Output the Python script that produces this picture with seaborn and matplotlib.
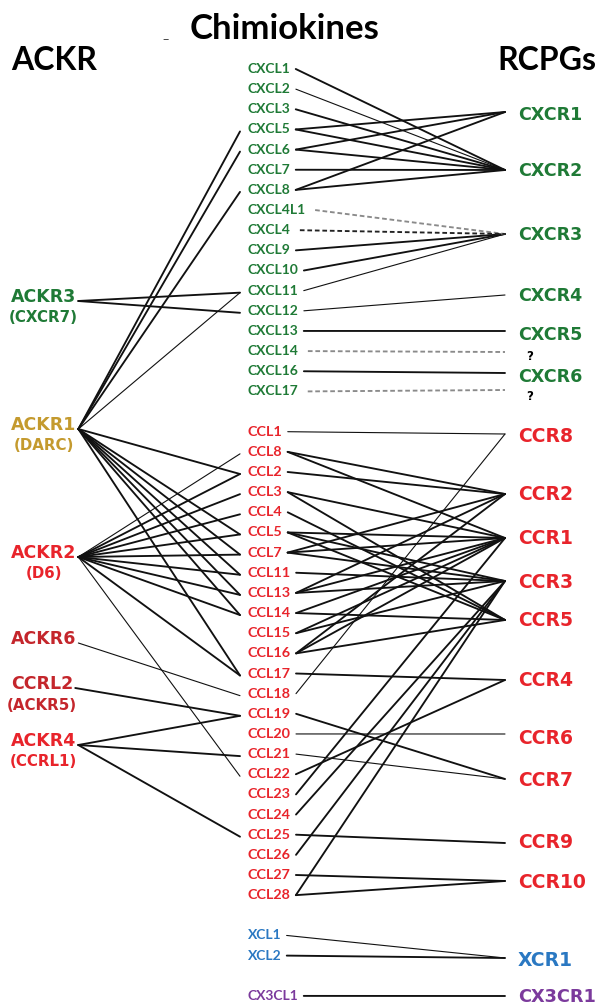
import pandas as pd
import matplotlib
matplotlib.use("Agg")
import matplotlib.pyplot as plt
import seaborn as sns

# ---- data -------------------------------------------------------------
# chemokines (middle column), display order, one list per family
cxcl = ["CXCL1", "CXCL2", "CXCL3", "CXCL5", "CXCL6", "CXCL7", "CXCL8", "CXCL4L1",
        "CXCL4", "CXCL9", "CXCL10", "CXCL11", "CXCL12", "CXCL13", "CXCL14",
        "CXCL16", "CXCL17"]
ccl = ["CCL1", "CCL8", "CCL2", "CCL3", "CCL4", "CCL5", "CCL7", "CCL11", "CCL13",
       "CCL14", "CCL15", "CCL16", "CCL17", "CCL18", "CCL19", "CCL20", "CCL21",
       "CCL22", "CCL23", "CCL24", "CCL25", "CCL26", "CCL27", "CCL28"]
xcl = ["XCL1", "XCL2"]
cx3cl = ["CX3CL1"]

# atypical receptors (left column) and their old names
ackr = ["ACKR3", "ACKR1", "ACKR2", "ACKR6", "CCRL2", "ACKR4"]
ackr_alias = ["(CXCR7)", "(DARC)", "(D6)", "", "(ACKR5)", "(CCRL1)"]

# classical receptors (right column); "?a"/"?b" are the unknown receptors
rcpg = ["CXCR1", "CXCR2", "CXCR3", "CXCR4", "CXCR5", "?a", "CXCR6", "?b",
        "CCR8", "CCR2", "CCR1", "CCR3", "CCR5", "CCR4", "CCR6", "CCR7", "CCR9",
        "CCR10", "XCR1", "CX3CR1"]

ackr_edges = [
    ("ACKR3", "CXCL11"), ("ACKR3", "CXCL12"),
    ("ACKR1", "CXCL5"), ("ACKR1", "CXCL6"), ("ACKR1", "CXCL8"), ("ACKR1", "CXCL11"),
    ("ACKR1", "CCL2"), ("ACKR1", "CCL5"), ("ACKR1", "CCL7"), ("ACKR1", "CCL11"),
    ("ACKR1", "CCL13"), ("ACKR1", "CCL14"), ("ACKR1", "CCL17"),
    ("ACKR2", "CCL8"), ("ACKR2", "CCL2"), ("ACKR2", "CCL3"), ("ACKR2", "CCL4"),
    ("ACKR2", "CCL5"), ("ACKR2", "CCL7"), ("ACKR2", "CCL11"), ("ACKR2", "CCL13"),
    ("ACKR2", "CCL14"), ("ACKR2", "CCL17"), ("ACKR2", "CCL22"),
    ("ACKR6", "CCL18"),
    ("CCRL2", "CCL19"),
    ("ACKR4", "CCL19"), ("ACKR4", "CCL21"), ("ACKR4", "CCL25"),
]

rcpg_edges = [
    ("CXCL1", "CXCR2"), ("CXCL2", "CXCR2"), ("CXCL3", "CXCR2"),
    ("CXCL5", "CXCR1"), ("CXCL5", "CXCR2"), ("CXCL6", "CXCR1"), ("CXCL6", "CXCR2"),
    ("CXCL7", "CXCR2"), ("CXCL8", "CXCR1"), ("CXCL8", "CXCR2"),
    ("CXCL4L1", "CXCR3"), ("CXCL4", "CXCR3"), ("CXCL9", "CXCR3"),
    ("CXCL10", "CXCR3"), ("CXCL11", "CXCR3"),
    ("CXCL12", "CXCR4"), ("CXCL13", "CXCR5"), ("CXCL14", "?a"),
    ("CXCL16", "CXCR6"), ("CXCL17", "?b"),
    ("CCL1", "CCR8"), ("CCL18", "CCR8"),
    ("CCL8", "CCR2"), ("CCL2", "CCR2"), ("CCL7", "CCR2"), ("CCL13", "CCR2"),
    ("CCL16", "CCR2"),
    ("CCL3", "CCR1"), ("CCL5", "CCR1"), ("CCL7", "CCR1"), ("CCL8", "CCR1"),
    ("CCL13", "CCR1"), ("CCL14", "CCR1"), ("CCL15", "CCR1"), ("CCL16", "CCR1"),
    ("CCL23", "CCR1"),
    ("CCL5", "CCR3"), ("CCL7", "CCR3"), ("CCL11", "CCR3"), ("CCL13", "CCR3"),
    ("CCL15", "CCR3"), ("CCL24", "CCR3"), ("CCL26", "CCR3"), ("CCL28", "CCR3"),
    ("CCL3", "CCR5"), ("CCL4", "CCR5"), ("CCL5", "CCR5"), ("CCL14", "CCR5"),
    ("CCL16", "CCR5"),
    ("CCL17", "CCR4"), ("CCL22", "CCR4"),
    ("CCL20", "CCR6"),
    ("CCL19", "CCR7"), ("CCL21", "CCR7"),
    ("CCL25", "CCR9"),
    ("CCL27", "CCR10"), ("CCL28", "CCR10"),
    ("XCL1", "XCR1"), ("XCL2", "XCR1"),
    ("CX3CL1", "CX3CR1"),
]

# ---- layout / style -----------------------------------------------------
W, H = 602, 1007
ROW0, ROW = 69, 20.15          # middle column grid (one blank row between families)
MID_X, MID_END = 248, 240
RIGHT_X, RIGHT_END = 518, 505

ackr_y = {"ACKR3": 297, "ACKR1": 425, "ACKR2": 553, "ACKR6": 639, "CCRL2": 684, "ACKR4": 741}
rcpg_label_y = {"CXCR1": 115, "CXCR2": 171, "CXCR3": 235, "CXCR4": 296, "CXCR5": 335,
                "?a": 357, "CXCR6": 377, "?b": 396, "CCR8": 437, "CCR2": 494,
                "CCR1": 539, "CCR3": 582, "CCR5": 620, "CCR4": 681, "CCR6": 739,
                "CCR7": 780, "CCR9": 843, "CCR10": 883, "XCR1": 961, "CX3CR1": 997}
rcpg_anchor_y = {"CXCR1": 112, "CXCR2": 170, "CXCR3": 234, "CXCR4": 295, "CXCR5": 331,
                 "?a": 352, "CXCR6": 373, "?b": 390, "CCR8": 434, "CCR2": 494,
                 "CCR1": 538, "CCR3": 581, "CCR5": 620, "CCR4": 680, "CCR6": 734,
                 "CCR7": 779, "CCR9": 843, "CCR10": 881, "XCR1": 958, "CX3CR1": 996}

GREEN, RED, DRED = "#1f7a36", "#e8242b", "#c4262c"
GOLD, BLUE, PURPLE = "#c49a2e", "#2a78c2", "#7b3a9c"
ackr_color = {"ACKR3": GREEN, "ACKR1": GOLD, "ACKR2": RED, "ACKR6": DRED,
              "CCRL2": DRED, "ACKR4": RED}

thin = {("CXCL2", "CXCR2"), ("CXCL11", "CXCR3"), ("CXCL12", "CXCR4"),
        ("CCL1", "CCR8"), ("CCL18", "CCR8"), ("CCL20", "CCR6"), ("CCL21", "CCR7"),
        ("ACKR1", "CXCL11"), ("ACKR2", "CCL8"), ("ACKR2", "CCL22"),
        ("ACKR6", "CCL18"), ("XCL1", "XCR1")}
dashed_dark = {("CXCL4", "CXCR3")}
dashed_gray = {("CXCL4L1", "CXCR3"), ("CXCL14", "?a"), ("CXCL17", "?b")}

BOLD_FONT = "DejaVu Sans"

sns.set_style("white")
fig = plt.figure(figsize=(W / 100, H / 100), dpi=100)
ax = fig.add_axes([0, 0, 1, 1])
ax.set_xlim(0, W)
ax.set_ylim(H, 0)
ax.axis("off")

# titles
ax.text(285, 29, "Chimiokines", ha="center", va="center", fontsize=25,
        fontweight="bold", family="Lato", color="black")
ax.text(11, 60, "ACKR", ha="left", va="center", fontsize=23, fontweight="bold",
        family="Lato", color="black")
ax.text(596, 60, "RCPGs", ha="right", va="center", fontsize=23, fontweight="bold",
        family="Lato", color="black")
ax.text(166, 40, "\u2013", ha="center", va="center", fontsize=9, color="#444444")

# middle column
mid_text, mid_y = {}, {}
row = 0
for fam, col, fs in [(cxcl, GREEN, 10), (ccl, RED, 10.4), (xcl, BLUE, 10), (cx3cl, PURPLE, 10)]:
    for name in fam:
        y = ROW0 + row * ROW
        mid_y[name] = y
        mid_text[name] = ax.text(MID_X, y, name, ha="left", va="center", fontsize=fs,
                                 color=col, family="Lato", fontweight="bold")
        row += 1
    row += 1

# left column
ackr_text = {}
for name in ackr:
    ackr_text[name] = ax.text(11, ackr_y[name], name, ha="left", va="center", fontsize=12.5,
                              fontweight="bold", color=ackr_color[name], family=BOLD_FONT)

# right column
for name in rcpg:
    y = rcpg_label_y[name]
    if name.startswith("?"):
        ax.text(526, y, "?", ha="left", va="center", fontsize=8.5, fontweight="bold",
                family=BOLD_FONT, color="black")
        continue
    if name.startswith("CXCR"):
        col, fs = GREEN, 12.6
    elif name.startswith("CCR"):
        col, fs = RED, 13.5
    elif name == "XCR1":
        col, fs = BLUE, 13.5
    else:
        col, fs = PURPLE, 12.8
    ax.text(RIGHT_X, y, name, ha="left", va="center", fontsize=fs, fontweight="bold",
            color=col, family=BOLD_FONT)

fig.canvas.draw()
renderer = fig.canvas.get_renderer()
inv = ax.transData.inverted()


def extent(t):
    bb = t.get_window_extent(renderer).transformed(inv)
    return min(bb.x0, bb.x1), max(bb.x0, bb.x1)


# aliases centred under the ACKR names
ackr_right = {}
for name, alias in zip(ackr, ackr_alias):
    x0, x1 = extent(ackr_text[name])
    ackr_right[name] = x1
    if alias:
        ax.text((x0 + x1) / 2, ackr_y[name] + 21, alias, ha="center", va="center",
                fontsize=10.8, fontweight="bold", color=ackr_color[name], family=BOLD_FONT)

mid_right = {n: extent(t)[1] for n, t in mid_text.items()}

# ---- edges as a long table for seaborn ----------------------------------
rows = []
for i, (a, b) in enumerate(ackr_edges):
    w = "thin" if (a, b) in thin else "thick"
    rows.append({"edge": f"L{i}", "x": ackr_right[a] + 2, "y": ackr_y[a] + 4,
                 "kind": "solid", "weight": w})
    rows.append({"edge": f"L{i}", "x": MID_END, "y": mid_y[b] + 2,
                 "kind": "solid", "weight": w})
for i, (a, b) in enumerate(rcpg_edges):
    if (a, b) in dashed_dark:
        kind = "dash"
    elif (a, b) in dashed_gray:
        kind = "gray"
    else:
        kind = "solid"
    w = "thin" if (a, b) in thin else "thick"
    start = mid_right[a] + 5
    if kind != "solid":
        start += 4
    rows.append({"edge": f"R{i}", "x": start, "y": mid_y[a], "kind": kind, "weight": w})
    rows.append({"edge": f"R{i}", "x": RIGHT_END, "y": rcpg_anchor_y[b], "kind": kind,
                 "weight": w})
edges = pd.DataFrame(rows)

sns.lineplot(data=edges, x="x", y="y", units="edge", estimator=None, sort=False,
             hue="kind", palette={"solid": "#111111", "dash": "#222222", "gray": "#8a8a8a"},
             style="kind", dashes={"solid": "", "dash": (2.5, 1.5), "gray": (2.5, 1.5)},
             size="weight", sizes={"thick": 1.35, "thin": 0.8},
             legend=False, ax=ax)

ax.set_xlim(0, W)
ax.set_ylim(H, 0)
ax.axis("off")
fig.savefig("out.png", dpi=100)
